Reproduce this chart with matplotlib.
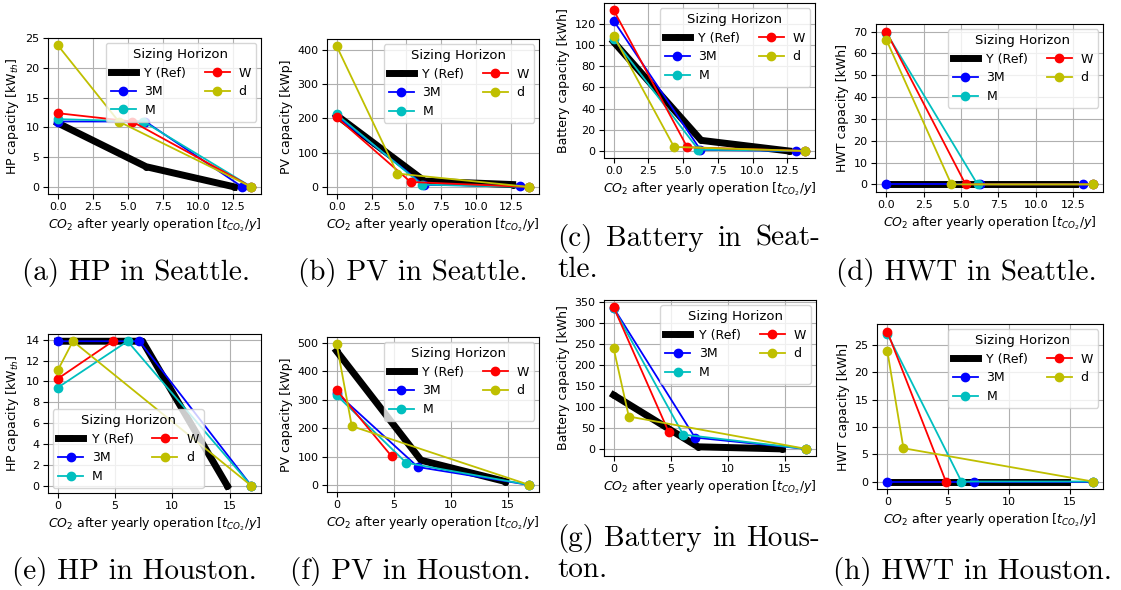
import matplotlib
matplotlib.use("Agg")
import matplotlib.pyplot as plt
from matplotlib.ticker import MultipleLocator

series_names = ["Y (Ref)", "3M", "M", "W", "d"]
series_colors = ["k", "b", "c", "r", "y"]

# CO2 emitted after a year of operation for each sizing horizon
seattle_co2 = {
    "Y (Ref)": [0.0, 6.3, 12.6],
    "3M": [0.0, 6.25, 13.15],
    "M": [0.0, 6.1, 13.8],
    "W": [0.0, 5.3, 13.8],
    "d": [0.0, 4.35, 13.8],
}
houston_co2 = {
    "Y (Ref)": [0.0, 7.4, 14.8],
    "3M": [0.0, 7.13, 16.9],
    "M": [0.0, 6.1, 16.9],
    "W": [0.0, 4.82],
    "d": [0.0, 1.33, 16.9],
}

# installed capacities, Seattle
seattle_hp = {"Y (Ref)": [10.75, 3.4, 0.0], "3M": [11.0, 11.0, 0.0],
              "M": [11.4, 11.0, 0.0], "W": [12.4, 11.0, 0.0], "d": [23.85, 11.0, 0.0]}
seattle_pv = {"Y (Ref)": [209, 17, 7], "3M": [207, 6, 3],
              "M": [212, 7, 0], "W": [203, 14.5, 0], "d": [411, 39, 0]}
seattle_bat = {"Y (Ref)": [103, 10, 0], "3M": [123, 1, 0],
               "M": [106, 1.3, 0], "W": [133, 3.5, 0], "d": [108.8, 3.8, 0]}
seattle_hwt = {"Y (Ref)": [0, 0, 0], "3M": [0, 0, 0],
               "M": [69.5, 0, 0], "W": [70, 0, 0], "d": [66.3, 0, 0]}

# installed capacities, Houston
houston_hp = {"Y (Ref)": [13.85, 13.85, 0.0], "3M": [13.85, 13.85, 0.0],
              "M": [9.4, 13.85, 0.0], "W": [10.25, 13.85], "d": [11.05, 13.85, 0.0]}
houston_pv = {"Y (Ref)": [471, 87, 12], "3M": [324, 63, 0],
              "M": [316, 78, 0], "W": [334, 101], "d": [496, 207, 0]}
houston_bat = {"Y (Ref)": [128, 5, 0], "3M": [335, 27, 0],
               "M": [334, 34, 0], "W": [337, 40.5], "d": [239, 77, 0]}
houston_hwt = {"Y (Ref)": [0, 0, 0], "3M": [0, 0, 0],
               "M": [27.1, 0, 0], "W": [27.5, 0], "d": [24.0, 6.1, 0]}

ylabels = ["HP capacity [kW$_{th}$]", "PV capacity [kWp]",
           "Battery capacity [kWh]", "HWT capacity [kWh]"]
xlabel = "$CO_2$ after yearly operation [$t_{CO_2}/y$]"

W, H = 1121, 590
fig = plt.figure(figsize=(W / 100, H / 100), dpi=100)


def px_axes(left, right, top, bottom):
    return fig.add_axes([left / W, 1 - bottom / H, (right - left) / W, (bottom - top) / H])


# data, y label, axes box in pixels (left, right, top, bottom), x/y tick step, legend spot
panels = [
    (seattle_co2, seattle_hp, ylabels[0], (48, 261, 38, 194), 2.5, 5, "upper right"),
    (seattle_co2, seattle_pv, ylabels[1], (327, 539, 39, 194), 2.5, 100, "upper right"),
    (seattle_co2, seattle_bat, ylabels[2], (604, 815, 3, 158), 2.5, 20, "upper right"),
    (seattle_co2, seattle_hwt, ylabels[3], (876, 1103, 24, 192), 2.5, 10, "upper right"),
    (houston_co2, houston_hp, ylabels[0], (48, 261, 334, 493), 5, 2, "lower left"),
    (houston_co2, houston_pv, ylabels[1], (327, 539, 337, 492), 5, 100, "upper right"),
    (houston_co2, houston_bat, ylabels[2], (604, 816, 300, 456), 5, 50, "upper right"),
    (houston_co2, houston_hwt, ylabels[3], (877, 1103, 324, 489), 5, 5, "upper right"),
]

for co2, cap, ylab, box, xstep, ystep, loc in panels:
    ax = px_axes(*box)
    for name, color in zip(series_names, series_colors):
        if name == "Y (Ref)":
            ax.plot(co2[name], cap[name], color=color, marker="o", lw=5, ms=4, label=name)
        else:
            ax.plot(co2[name][:len(cap[name])], cap[name], color=color, marker="o",
                    lw=1.3, ms=6, label=name)
    ax.xaxis.set_major_locator(MultipleLocator(xstep))
    ax.yaxis.set_major_locator(MultipleLocator(ystep))
    ax.grid(True)
    ax.tick_params(labelsize=8, length=3.5, pad=2.5)
    ax.set_xlabel(xlabel, fontsize=9, labelpad=3)
    ax.set_ylabel(ylab, fontsize=9, labelpad=3)
    ax.legend(title="Sizing Horizon", ncol=2, loc=loc, fontsize=9, title_fontsize=9.5,
              borderaxespad=0.4, labelspacing=0.45, columnspacing=1.5,
              handlelength=2.0, handletextpad=0.7)

cap_font = dict(family="cmr10", fontsize=21)


def justified(words, x0, x1, y):
    # spread the words so the line fills x0..x1 (pixels)
    texts = [fig.text(0, 1 - y / H, w, va="baseline", **cap_font) for w in words]
    fig.canvas.draw()
    r = fig.canvas.get_renderer()
    widths = [t.get_window_extent(r).width for t in texts]
    gap = (x1 - x0 - sum(widths)) / (len(words) - 1)
    x = x0
    for t, w in zip(texts, widths):
        t.set_x(x / W)
        x += w + gap


captions = [
    ("(a) HP in Seattle.", 22, 280),
    ("(b) PV in Seattle.", 298, 280),
    ("(d) HWT in Seattle.", 836, 280),
    ("(e) HP in Houston.", 12, 579),
    ("(f) PV in Houston.", 290, 579),
    ("(h) HWT in Houston.", 833, 579),
]
for text, x, y in captions:
    fig.text(x / W, 1 - y / H, text, va="baseline", **cap_font)

justified(["(c)", "Battery", "in", "Seat-"], 557, 820, 246)
fig.text(557 / W, 1 - 277 / H, "tle.", va="baseline", **cap_font)
justified(["(g)", "Battery", "in", "Hous-"], 557, 820, 546)
fig.text(557 / W, 1 - 577 / H, "ton.", va="baseline", **cap_font)

fig.savefig("out.png", dpi=100)
